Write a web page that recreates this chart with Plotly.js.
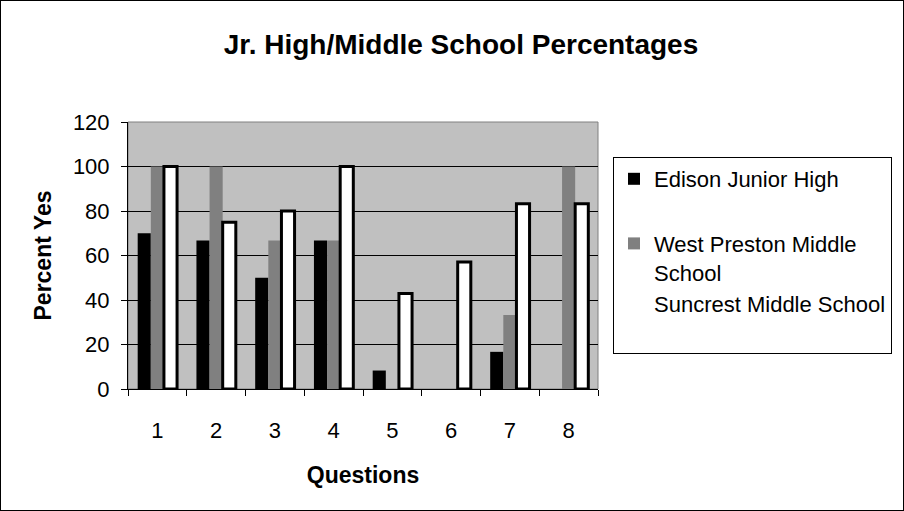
<!DOCTYPE html>
<html>
<head>
<meta charset="utf-8">
<script src="https://cdn.plot.ly/plotly-3.0.1.min.js"></script>
<style>
  html, body { margin: 0; padding: 0; background: #fff; }
  #frame { width: 902px; height: 509px; border: 1px solid #000; }
  #chart { width: 902px; height: 509px; }
</style>
</head>
<body>
<div id="frame"><div id="chart"></div></div>
<script>
// Data
var questions = ['1', '2', '3', '4', '5', '6', '7', '8'];
var edison = [70, 66.7, 50, 66.7, 8.3, 0, 16.7, 0];
var westPreston = [100, 100, 66.7, 66.7, 0, 0, 33.3, 100];
var suncrest = [100, 75, 80, 100, 42.9, 57.1, 83.3, 83.3];
var seriesNames = ['Edison Junior High', 'West Preston Middle<br>School', 'Suncrest Middle School<br>&nbsp;'];
var yTicks = [0, 20, 40, 60, 80, 100, 120];

var FONT = 'Liberation Sans, Arial, Helvetica, sans-serif';

var traces = [
  {
    type: 'bar', x: questions, y: edison, name: seriesNames[0],
    offsetgroup: 'a', legendgroup: 'g1',
    marker: { color: '#000000', line: { width: 0 } },
    hoverinfo: 'x+y'
  },
  {
    type: 'bar', x: questions, y: westPreston, name: seriesNames[1],
    offsetgroup: 'b', legendgroup: 'g2',
    marker: { color: '#808080', line: { width: 0 } },
    hoverinfo: 'x+y'
  },
  {
    type: 'bar', x: questions, y: suncrest, name: seriesNames[2],
    offsetgroup: 'c', legendgroup: 'g2',
    marker: { color: '#ffffff', line: { width: 0 } },
    hoverinfo: 'x+y'
  },
  {
    type: 'bar', x: questions, y: suncrest, name: 'Suncrest outline',
    offsetgroup: 'c', showlegend: false,
    marker: { color: 'rgba(0,0,0,0)', line: { width: 3, color: '#000000' } },
    hoverinfo: 'skip'
  }
];

var layout = {
  width: 902, height: 509,
  margin: { l: 127, r: 305, t: 121, b: 121 },
  paper_bgcolor: '#ffffff',
  plot_bgcolor: '#c0c0c0',
  font: { family: FONT, color: '#000000', size: 22 },
  title: {
    text: '<b>Jr. High/Middle School Percentages</b>',
    font: { family: FONT, size: 28, color: '#000000' },
    x: 460 / 902, xanchor: 'center', xref: 'container',
    y: 1 - 43 / 509, yanchor: 'middle', yref: 'container'
  },
  barmode: 'group',
  bargap: 0.33,
  bargroupgap: 0,
  showlegend: true,
  legend: {
    xref: 'container', yref: 'container',
    x: 612 / 902, xanchor: 'left',
    y: 1 - 156 / 509, yanchor: 'top',
    bgcolor: '#ffffff', bordercolor: '#000000', borderwidth: 1,
    font: { family: FONT, size: 22, color: '#000000' },
    valign: 'top',
    tracegroupgap: 33,
    traceorder: 'grouped'
  },
  xaxis: {
    type: 'category',
    title: { text: '<b>Questions</b>', font: { family: FONT, size: 23 }, standoff: 24 },
    tickfont: { family: FONT, size: 22 },
    showline: true, linecolor: '#000000', linewidth: 1,
    ticks: 'outside', ticklen: 6, tickcolor: '#000000', tickwidth: 1,
    tickson: 'boundaries',
    ticklabelstandoff: 22,
    showgrid: false, zeroline: false,
    automargin: false, fixedrange: true
  },
  yaxis: {
    title: { text: '<b>Percent Yes</b>', font: { family: FONT, size: 23 }, standoff: 14 },
    range: [0, 120],
    tickvals: yTicks, ticktext: yTicks.map(String),
    tickfont: { family: FONT, size: 22 },
    showline: true, linecolor: '#000000', linewidth: 1,
    ticks: 'outside', ticklen: 6, tickcolor: '#000000', tickwidth: 1,
    ticklabelstandoff: 7,
    showgrid: true, gridcolor: '#000000', gridwidth: 1,
    zeroline: false,
    automargin: false, fixedrange: true
  },
  shapes: [
    {
      type: 'rect', xref: 'paper', yref: 'paper', x0: 0, x1: 1, y0: 0, y1: 1,
      line: { color: '#808080', width: 1 }, fillcolor: 'rgba(0,0,0,0)', layer: 'below'
    }
  ]
};

Plotly.newPlot('chart', traces, layout, { displayModeBar: false, staticPlot: true });
</script>
</body>
</html>
